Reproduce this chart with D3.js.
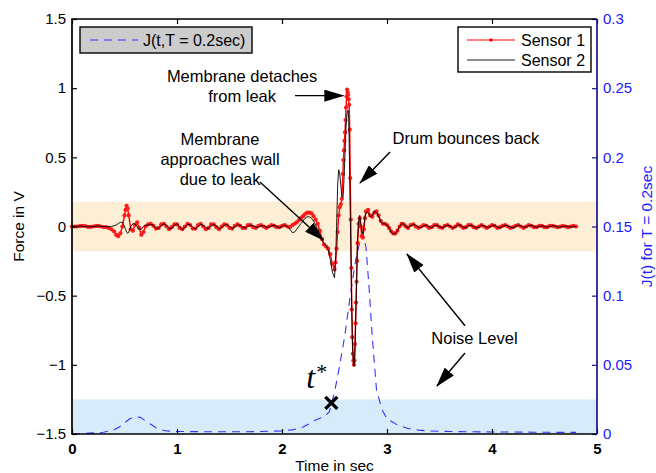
<!DOCTYPE html>
<html>
<head>
<meta charset="utf-8">
<script src="https://cdn.jsdelivr.net/npm/d3@7"></script>
<style>
  body { margin: 0; background: #fff; }
  svg { display: block; font-family: "Liberation Sans", Arial, sans-serif; }
</style>
</head>
<body>
<figure style="margin:0"></figure>
<script>
// sample times (sec) shared by both sensors
const sampleTime = [
  0, 0.025, 0.05, 0.075, 0.1, 0.125, 0.15, 0.175, 0.2, 0.225, 0.25, 0.275, 0.3, 0.325, 0.35, 0.375, 0.4,
  0.42, 0.44, 0.46, 0.48, 0.5, 0.51, 0.52, 0.53, 0.54, 0.56, 0.58, 0.6, 0.62, 0.64, 0.66, 0.68, 0.7,
  0.725, 0.75, 0.775, 0.8, 0.825, 0.85, 0.875, 0.9, 0.925, 0.95, 0.975, 1.0, 1.025, 1.05, 1.075, 1.1,
  1.125, 1.15, 1.175, 1.2, 1.225, 1.25, 1.275, 1.3, 1.325, 1.35, 1.375, 1.4, 1.425, 1.45, 1.475, 1.5,
  1.525, 1.55, 1.575, 1.6, 1.625, 1.65, 1.675, 1.7, 1.725, 1.75, 1.775, 1.8, 1.825, 1.85, 1.875, 1.9,
  1.925, 1.95, 1.975, 2.0, 2.025, 2.05, 2.075, 2.1,
  2.12, 2.14, 2.16, 2.18, 2.2, 2.22, 2.24, 2.26, 2.28, 2.3, 2.32, 2.34, 2.36, 2.38, 2.4, 2.42, 2.44, 2.46, 2.48, 2.5,
  2.51, 2.52, 2.53, 2.54, 2.55, 2.56, 2.57, 2.58,
  2.585, 2.59, 2.595, 2.6, 2.605, 2.61, 2.615, 2.62, 2.625, 2.63, 2.635, 2.64, 2.645, 2.65, 2.655, 2.66,
  2.665, 2.67, 2.675, 2.68, 2.685, 2.69, 2.695, 2.7, 2.705, 2.71, 2.715, 2.72,
  2.73, 2.74, 2.75, 2.76, 2.77, 2.78, 2.79, 2.8,
  2.82, 2.84, 2.86, 2.88, 2.9, 2.92, 2.94, 2.96, 2.98, 3.0, 3.02, 3.04, 3.06, 3.08, 3.1, 3.12, 3.14, 3.16, 3.18, 3.2,
  3.225, 3.25, 3.275, 3.3, 3.325, 3.35, 3.375, 3.4, 3.425, 3.45, 3.475, 3.5, 3.525, 3.55, 3.575, 3.6,
  3.625, 3.65, 3.675, 3.7, 3.725, 3.75, 3.775, 3.8, 3.825, 3.85, 3.875, 3.9, 3.925, 3.95, 3.975, 4.0,
  4.025, 4.05, 4.075, 4.1, 4.125, 4.15, 4.175, 4.2, 4.225, 4.25, 4.275, 4.3, 4.325, 4.35, 4.375, 4.4,
  4.425, 4.45, 4.475, 4.5, 4.525, 4.55, 4.575, 4.6, 4.625, 4.65, 4.675, 4.7, 4.725, 4.75, 4.775, 4.8
];

// Sensor 1 force (V)
const sensor1 = [
  0, 0, 0, 0.003, 0.005, 0.002, -0.002, -0.003, 0, 0.003, 0.004, 0, -0.004, -0.005, -0.01, -0.02, -0.035,
  -0.06, -0.07, -0.05, 0.0, 0.08, 0.12, 0.15, 0.13, 0.08, -0.02, -0.03, 0.01, 0.03, -0.01, -0.06, -0.04, 0.0,
  0.015, 0.02, 0.005, -0.015, -0.01, 0.015, 0.02, 0.0, -0.02, -0.005,
  0.015, 0.015, -0.01, -0.02, 0.0, 0.02, 0.01, -0.015, -0.015, 0.01,
  0.02, 0.0, -0.02, -0.01, 0.015, 0.015, -0.005, -0.02, 0.0, 0.015,
  0.01, -0.01, -0.015, 0.005, 0.015, 0.005, -0.01, -0.01, 0.01, 0.01,
  -0.005, -0.01, 0.005, 0.01, 0.0, -0.01, 0.0, 0.01, 0.005, -0.005,
  -0.005, 0.005, 0.01, 0.0, -0.005, 0.01,
  0.02, 0.03, 0.045, 0.06, 0.075, 0.09, 0.1, 0.1, 0.095, 0.075, 0.05, 0.02, -0.03, -0.09, -0.13, -0.145, -0.16, -0.2, -0.27, -0.31,
  -0.26, -0.16, -0.04, 0.08, 0.14, 0.16, 0.2, 0.38,
  0.48, 0.55, 0.62, 0.68, 0.77, 0.86, 0.94, 0.99, 0.97, 0.95, 0.92, 0.88, 0.7, 0.35, 0.05, -0.3,
  -0.6, -0.8, -0.92, -0.97, -1.0, -0.97, -0.85, -0.7, -0.55, -0.4, -0.25, -0.12,
  0.02, 0.06, 0.0, -0.07, -0.08, -0.02, 0.06, 0.11,
  0.12, 0.08, 0.07, 0.1, 0.11, 0.08, 0.04, 0.02, 0.02, 0.01, -0.01, -0.035, -0.05, -0.05, -0.03, 0.0, 0.02, 0.015, 0.0, -0.01,
  0.01, 0.015, 0.0, -0.01, 0.0, 0.01, 0.005, -0.01, -0.005, 0.01,
  0.01, -0.005, -0.01, 0.005, 0.01, 0.0, -0.01, 0.0, 0.015, 0.005,
  -0.01, -0.005, 0.01, 0.01, -0.005, -0.01, 0.0, 0.01, 0.0, -0.01,
  0.0, 0.01, 0.005, -0.01, -0.005, 0.005, 0.01, 0.0, -0.01, -0.005,
  0.005, 0.01, 0.0, -0.01, 0.0, 0.01, 0.005, -0.005, -0.005, 0.005,
  0.005, -0.005, -0.005, 0.005, 0.005, 0.0, -0.005, 0.0, 0.005, 0.0,
  -0.005, 0.0, 0.005, 0.0
];

// Sensor 2 force (V)
const sensor2 = [
  0, 0, 0.002, 0.003, 0.002, 0, -0.002, -0.002, 0, 0.002, 0.003, 0.002, 0, -0.002, -0.003, 0, 0.005,
  0.01, 0.02, 0.03, 0.03, 0.0, -0.02, -0.04, -0.05, -0.04, 0.0, 0.02, 0.02, 0.0, -0.02, -0.02, 0.0, 0.01,
  0.01, 0.015, 0.01, -0.01, -0.015, 0.005, 0.02, 0.01, -0.015, -0.015,
  0.01, 0.02, 0.0, -0.02, -0.01, 0.015, 0.015, -0.005, -0.02, 0.0,
  0.015, 0.01, -0.01, -0.015, 0.005, 0.015, 0.005, -0.015, -0.01, 0.01,
  0.015, 0.0, -0.015, -0.005, 0.01, 0.01, -0.005, -0.01, 0.0, 0.01,
  0.005, -0.005, -0.005, 0.005, 0.005, -0.005, -0.005, 0.005, 0.01, 0.0,
  -0.01, 0.0, 0.01, 0.0, -0.02, -0.045,
  -0.04, -0.02, 0.0, 0.02, 0.04, 0.06, 0.07, 0.07, 0.06, 0.04, 0.01, -0.02, -0.06, -0.1, -0.12, -0.14, -0.17, -0.24, -0.33, -0.37,
  -0.25, 0.0, 0.3, 0.41, 0.38, 0.3, 0.22, 0.21,
  0.25, 0.33, 0.43, 0.53, 0.63, 0.72, 0.78, 0.82, 0.84, 0.84, 0.78, 0.6, 0.35, 0.1, -0.15, -0.4,
  -0.62, -0.8, -0.92, -0.98, -1.01, -0.99, -0.9, -0.75, -0.58, -0.4, -0.22, -0.08,
  0.04, 0.08, 0.03, -0.03, -0.05, 0.0, 0.07, 0.1,
  0.1, 0.07, 0.08, 0.11, 0.1, 0.07, 0.04, 0.02, 0.02, 0.01, -0.01, -0.04, -0.055, -0.05, -0.03, 0.0, 0.02, 0.02, 0.0, -0.01,
  0.005, 0.015, 0.01, -0.005, -0.01, 0.005, 0.01, 0.0, -0.01, 0.005,
  0.01, 0.0, -0.01, 0.0, 0.01, 0.005, -0.01, -0.005, 0.01, 0.01,
  -0.005, -0.01, 0.005, 0.01, 0.0, -0.01, -0.005, 0.01, 0.005, -0.005,
  -0.005, 0.005, 0.01, -0.005, -0.01, 0.0, 0.01, 0.005, -0.005, -0.01,
  0.0, 0.01, 0.005, -0.005, -0.005, 0.005, 0.01, 0.0, -0.005, 0.0,
  0.005, 0.0, -0.005, 0.0, 0.005, 0.005, -0.005, -0.005, 0.0, 0.005,
  0.0, -0.005, 0.0, 0.0
];

// J(t, T = 0.2 sec), right axis
const jTime = [
  0, 0.1, 0.2, 0.3, 0.4, 0.45, 0.5, 0.55, 0.6, 0.65, 0.7, 0.75, 0.8, 0.85, 0.9, 1.0,
  1.2, 1.4, 1.6, 1.8, 2.0, 2.1, 2.2, 2.25, 2.3, 2.35, 2.4, 2.45, 2.5, 2.55, 2.6, 2.65,
  2.7, 2.75, 2.77, 2.8, 2.83, 2.86, 2.9, 2.95, 3.0, 3.1, 3.2, 3.3, 3.4, 3.6, 3.8, 4.0,
  4.2, 4.4, 4.6, 4.8
];
const jValue = [
  0.0, 0.0003, 0.0008, 0.0013, 0.003, 0.005, 0.008, 0.011, 0.0125, 0.012, 0.0095, 0.007, 0.0045, 0.003, 0.0022, 0.0018,
  0.0017, 0.0016, 0.0016, 0.0018, 0.0022, 0.003, 0.005, 0.007, 0.0095, 0.011, 0.0125, 0.016, 0.03, 0.05, 0.072, 0.1,
  0.125, 0.142, 0.145, 0.135, 0.105, 0.07, 0.032, 0.018, 0.011, 0.0065, 0.004, 0.0028, 0.0022, 0.0018, 0.0016, 0.0015,
  0.0014, 0.0013, 0.0012, 0.0012
];

const xTicks = [0, 1, 2, 3, 4, 5];
const yTicks = [-1.5, -1, -0.5, 0, 0.5, 1, 1.5];
const jTicks = [0, 0.05, 0.1, 0.15, 0.2, 0.25, 0.3];
const noiseBand = [-0.18, 0.18];
const jThreshold = 0.025;
const tStar = [2.47, 0.0225];

const draw = () => {
  const width = 656;
  const height = 473;
  const margin = { top: 19, right: 59, bottom: 39, left: 72 };

  const svg = d3.select("figure").append("svg")
    .attr("width", width).attr("height", height);

  const x = d3.scaleLinear().domain([0, 5]).range([margin.left, width - margin.right]);
  const y = d3.scaleLinear().domain([-1.5, 1.5]).range([height - margin.bottom, margin.top]);
  const yJ = d3.scaleLinear().domain([0, 0.3]).range([height - margin.bottom, margin.top]);

  const s1 = sampleTime.map((t, i) => [t, sensor1[i]]);
  const s2 = sampleTime.map((t, i) => [t, sensor2[i]]);
  const jData = jTime.map((t, i) => [t, jValue[i]]);

  // noise bands
  svg.append("rect")
    .attr("x", x(0)).attr("width", x(5) - x(0))
    .attr("y", y(noiseBand[1])).attr("height", y(noiseBand[0]) - y(noiseBand[1]))
    .attr("fill", "#fcefd5");
  svg.append("rect")
    .attr("x", x(0)).attr("width", x(5) - x(0))
    .attr("y", yJ(jThreshold)).attr("height", yJ(0) - yJ(jThreshold))
    .attr("fill", "#d7ecfa");

  // J curve
  svg.append("path")
    .datum(jData)
    .attr("fill", "none")
    .attr("stroke", "#3333ff")
    .attr("stroke-width", 1.1)
    .attr("stroke-dasharray", "8,6")
    .attr("d", d3.line().x((d) => x(d[0])).y((d) => yJ(d[1])));

  const line = d3.line().x((d) => x(d[0])).y((d) => y(d[1]));

  svg.append("path")
    .datum(s1)
    .attr("fill", "none")
    .attr("stroke", "#ff0000")
    .attr("stroke-width", 1.4)
    .attr("d", line);

  svg.selectAll("circle.s1")
    .data(s1)
    .enter()
    .append("circle")
    .attr("class", "s1")
    .attr("cx", (d) => x(d[0]))
    .attr("cy", (d) => y(d[1]))
    .attr("r", 2.1)
    .attr("fill", "#ff1a1a");

  svg.append("path")
    .datum(s2)
    .attr("fill", "none")
    .attr("stroke", "#000")
    .attr("stroke-width", 0.9)
    .attr("d", line);

  // axes
  const axisText = (g, col) => {
    g.select(".domain").remove();
    g.selectAll("text").attr("font-size", 15).attr("font-family", "Liberation Sans, Arial, sans-serif").attr("fill", col);
    g.selectAll("line").attr("stroke", col).attr("stroke-width", 1.2);
  };

  svg.append("g")
    .attr("transform", `translate(${x(0)},0)`)
    .call(d3.axisLeft(y).tickValues(yTicks).tickSizeInner(-5).tickSizeOuter(0).tickPadding(6).tickFormat(d3.format("")))
    .call((g) => axisText(g, "#000"));

  svg.append("g")
    .attr("transform", `translate(0,${y(-1.5)})`)
    .call(d3.axisBottom(x).tickValues(xTicks).tickSizeInner(-5).tickSizeOuter(0).tickPadding(9).tickFormat(d3.format("d")))
    .call((g) => axisText(g, "#000"))
    .selectAll("text").attr("font-weight", "bold");

  svg.append("g")
    .attr("transform", `translate(0,${y(1.5)})`)
    .call(d3.axisTop(x).tickValues(xTicks).tickSizeInner(-5).tickSizeOuter(0).tickFormat(""))
    .call((g) => axisText(g, "#000"));

  svg.append("g")
    .attr("transform", `translate(${x(5)},0)`)
    .call(d3.axisRight(yJ).tickValues(jTicks).tickSizeInner(-5).tickSizeOuter(0).tickPadding(6).tickFormat(d3.format("")))
    .call((g) => axisText(g, "#2020ff"))
    .selectAll("line").attr("stroke", "#14148c");

  // box
  svg.append("path")
    .attr("d", `M${x(5)},${y(1.5)}H${x(0)}V${y(-1.5)}H${x(5)}`)
    .attr("fill", "none").attr("stroke", "#000").attr("stroke-width", 1.7);
  svg.append("line")
    .attr("x1", x(5)).attr("x2", x(5)).attr("y1", yJ(0.3)).attr("y2", yJ(0))
    .attr("stroke", "#14148c").attr("stroke-width", 1.7);

  // axis titles
  svg.append("text")
    .attr("transform", `translate(24,${y(0)}) rotate(-90)`)
    .attr("text-anchor", "middle").attr("font-size", 15.5)
    .text("Force in V");
  svg.append("text")
    .attr("transform", `translate(652,${yJ(0.15)}) rotate(-90)`)
    .attr("text-anchor", "middle").attr("font-size", 15.5).attr("fill", "#2020ff")
    .text("J(t) for T = 0.2sec");
  svg.append("text")
    .attr("x", x(2.5)).attr("y", 471)
    .attr("text-anchor", "middle").attr("font-size", 15.5)
    .text("Time in sec");

  // annotations
  const defs = svg.append("defs");
  defs.append("marker")
    .attr("id", "head")
    .attr("viewBox", "0 0 20 12")
    .attr("refX", 19).attr("refY", 6)
    .attr("markerWidth", 20).attr("markerHeight", 12)
    .attr("markerUnits", "userSpaceOnUse")
    .attr("orient", "auto")
    .append("path").attr("d", "M0,0L20,6L0,12Z").attr("fill", "#000");

  const notes = [
    { t: 1.62, v: 1.045, text: "Membrane detaches" },
    { t: 1.62, v: 0.902, text: "from leak" },
    { t: 1.41, v: 0.589, text: "Membrane" },
    { t: 1.41, v: 0.445, text: "approaches wall" },
    { t: 1.41, v: 0.3, text: "due to leak" },
    { t: 3.752, v: 0.596, text: "Drum bounces back" },
    { t: 3.833, v: -0.849, text: "Noise Level" },
  ];
  svg.selectAll("text.note")
    .data(notes)
    .enter()
    .append("text")
    .attr("class", "note")
    .attr("x", (d) => x(d.t))
    .attr("y", (d) => y(d.v))
    .attr("text-anchor", "middle")
    .attr("font-size", 16.5)
    .text((d) => d.text);

  const arrows = [
    [[2.124, 0.946], [2.584, 0.946]],
    [[1.79, 0.322], [2.393, -0.098]],
    [[3.029, 0.539], [2.743, 0.314]],
    [[3.743, -0.717], [3.19, -0.199]],
    [[3.743, -0.914], [3.476, -1.153]],
  ];
  svg.selectAll("line.arrow")
    .data(arrows)
    .enter()
    .append("line")
    .attr("class", "arrow")
    .attr("x1", (d) => x(d[0][0])).attr("y1", (d) => y(d[0][1]))
    .attr("x2", (d) => x(d[1][0])).attr("y2", (d) => y(d[1][1]))
    .attr("stroke", "#000").attr("stroke-width", 1.4)
    .attr("marker-end", "url(#head)");

  // t* marker
  const cx = x(tStar[0]);
  const cy = yJ(tStar[1]);
  svg.append("path")
    .attr("d", `M${cx - 6},${cy - 6}L${cx + 6},${cy + 6}M${cx - 6},${cy + 6}L${cx + 6},${cy - 6}`)
    .attr("stroke", "#000").attr("stroke-width", 3.4);
  const tLabel = svg.append("text")
    .attr("x", cx - 25).attr("y", cy - 15)
    .attr("font-family", "Liberation Serif, DejaVu Serif, serif")
    .attr("font-style", "italic")
    .attr("font-size", 32);
  tLabel.append("tspan").text("t");
  tLabel.append("tspan").attr("dy", -9).attr("dx", 1).attr("font-size", 22).attr("font-style", "normal").text("*");

  // legends
  const lg1 = svg.append("g").attr("transform", `translate(${x(0) + 8},${y(1.5) + 8})`);
  lg1.append("rect").attr("width", 172).attr("height", 26)
    .attr("fill", "#cccccc").attr("stroke", "#000").attr("stroke-width", 1.4);
  lg1.append("line").attr("x1", 10).attr("x2", 58).attr("y1", 13).attr("y2", 13)
    .attr("stroke", "#3333ff").attr("stroke-width", 1.1).attr("stroke-dasharray", "8,6");
  lg1.append("text").attr("x", 63).attr("y", 19).attr("font-size", 16).text("J(t,T = 0.2sec)");

  const lg2 = svg.append("g").attr("transform", `translate(458,${y(1.5) + 8})`);
  lg2.append("rect").attr("width", 133).attr("height", 45)
    .attr("fill", "#fff").attr("stroke", "#000").attr("stroke-width", 1.4);
  lg2.append("line").attr("x1", 9).attr("x2", 57).attr("y1", 13).attr("y2", 13)
    .attr("stroke", "#ff0000").attr("stroke-width", 1.2);
  lg2.append("circle").attr("cx", 33).attr("cy", 13).attr("r", 1.7).attr("fill", "#ff0000");
  lg2.append("text").attr("x", 63).attr("y", 19).attr("font-size", 16).text("Sensor 1");
  lg2.append("line").attr("x1", 9).attr("x2", 57).attr("y1", 33).attr("y2", 33)
    .attr("stroke", "#000").attr("stroke-width", 0.9);
  lg2.append("text").attr("x", 63).attr("y", 39).attr("font-size", 16).text("Sensor 2");
};

window.onload = () => {
  draw();
};
</script>
</body>
</html>
